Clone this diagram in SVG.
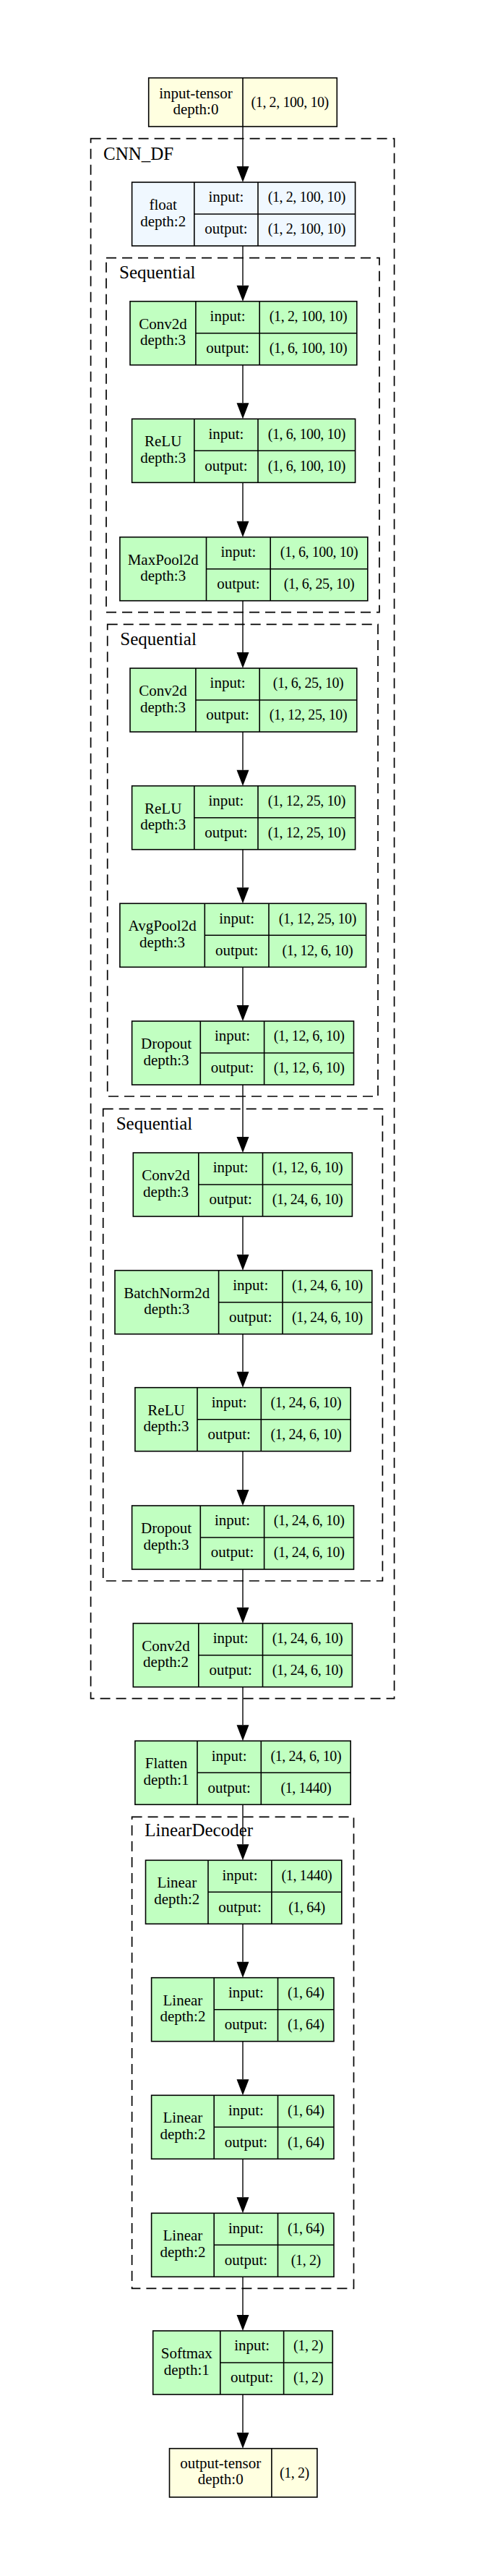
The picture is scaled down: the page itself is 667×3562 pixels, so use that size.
<svg xmlns="http://www.w3.org/2000/svg" width="667" height="3562" viewBox="0 0 667 3562">
<style>
text{font-family:"Liberation Serif","Times New Roman",serif;font-size:21px;text-anchor:middle;fill:#000}
text.v{font-size:20px;letter-spacing:-0.4px}
text.cl{font-size:25px;text-anchor:start}
.g rect{fill:#c1ffc1;stroke:#000;stroke-width:1.6}
.b rect{fill:#f0f8ff;stroke:#000;stroke-width:1.6}
.y rect{fill:#ffffe0;stroke:#000;stroke-width:1.6}
line.d{stroke:#000;stroke-width:1.6}
.cluster{fill:none;stroke:#000;stroke-width:1.7;stroke-dasharray:14 8}
#edges line{stroke:#000;stroke-width:1.4;marker-end:url(#ah)}
</style>
<defs>
<marker id="ah" markerUnits="userSpaceOnUse" markerWidth="22" markerHeight="17" refX="0" refY="8.5" orient="auto" viewBox="0 0 22 17" overflow="visible"><path d="M0,0 L22,8.5 L0,17 z" fill="#000"/></marker>
</defs>
<rect width="667" height="3562" fill="#fff"/>

<g id="clusters">
<g id="cl_cnn"><rect class="cluster" x="125.6" y="191.7" width="420" height="2157"/><text class="cl" x="143" y="220.5">CNN_DF</text></g>
<g id="cl_seq1"><rect class="cluster" x="147" y="356.7" width="378" height="490"/><text class="cl" x="165" y="385">Sequential</text></g>
<g id="cl_seq2"><rect class="cluster" x="148.7" y="863.3" width="374.3" height="652.7"/><text class="cl" x="166.3" y="891.7">Sequential</text></g>
<g id="cl_seq3"><rect class="cluster" x="142.7" y="1533.3" width="386.7" height="652.7"/><text class="cl" x="160.7" y="1561.7">Sequential</text></g>
<g id="cl_ld"><rect class="cluster" x="182.6" y="2512.3" width="306.9" height="652"/><text class="cl" x="200.2" y="2539.3">LinearDecoder</text></g>
</g>

<g id="edges">
<line x1="336" y1="175" x2="336" y2="230"/>
<line x1="336" y1="340" x2="336" y2="394.7"/>
<line x1="336" y1="504.7" x2="336" y2="557.3"/>
<line x1="336" y1="667.7" x2="336" y2="720.7"/>
<line x1="336" y1="830.7" x2="336" y2="902"/>
<line x1="336" y1="1012" x2="336" y2="1064.7"/>
<line x1="336" y1="1174.7" x2="336" y2="1227.3"/>
<line x1="336" y1="1337.3" x2="336" y2="1390"/>
<line x1="336" y1="1500" x2="336" y2="1572"/>
<line x1="336" y1="1682" x2="336" y2="1734.7"/>
<line x1="336" y1="1844.7" x2="336" y2="1896.7"/>
<line x1="336" y1="2006.7" x2="336" y2="2060"/>
<line x1="336" y1="2170" x2="336" y2="2222.7"/>
<line x1="336" y1="2332.7" x2="336" y2="2385.3"/>
<line x1="336" y1="2495.3" x2="336" y2="2550.3"/>
<line x1="336" y1="2660.3" x2="336" y2="2712.7"/>
<line x1="336" y1="2822.7" x2="336" y2="2875.3"/>
<line x1="336" y1="2985.3" x2="336" y2="3038.3"/>
<line x1="336" y1="3148.3" x2="336" y2="3201"/>
<line x1="336" y1="3311" x2="336" y2="3363.7"/>
</g>

<g id="input_tensor" class="y">
<rect x="205.7" y="107.7" width="260.6" height="67.3"/>
<line class="d" x1="336" y1="107.7" x2="336" y2="175"/>
<text x="270.9" y="136">input-tensor</text>
<text x="270.9" y="158">depth:0</text>
<text class="v" x="401.2" y="148.3">(1, 2, 100, 10)</text>
</g>

<g id="float" class="b" transform="translate(0,252)">
<rect x="182.6" y="0" width="309" height="88"/>
<line class="d" x1="268.8" y1="0" x2="268.8" y2="88"/><line class="d" x1="357" y1="0" x2="357" y2="88"/><line class="d" x1="268.8" y1="44" x2="491.6" y2="44"/>
<text x="225.7" y="38">float</text><text x="225.7" y="60.5">depth:2</text>
<text x="312.9" y="27.3">input:</text><text x="312.9" y="71.3">output:</text>
<text class="v" x="424.3" y="27.3">(1, 2, 100, 10)</text><text class="v" x="424.3" y="71.3">(1, 2, 100, 10)</text>
</g>

<g id="conv2d_1" class="g" transform="translate(0,416.7)">
<rect x="180" y="0" width="313.8" height="88"/>
<line class="d" x1="270.9" y1="0" x2="270.9" y2="88"/><line class="d" x1="359.2" y1="0" x2="359.2" y2="88"/><line class="d" x1="270.9" y1="44" x2="493.8" y2="44"/>
<text x="225.5" y="38">Conv2d</text><text x="225.5" y="60.5">depth:3</text>
<text x="315.1" y="27.3">input:</text><text x="315.1" y="71.3">output:</text>
<text class="v" x="426.5" y="27.3">(1, 2, 100, 10)</text><text class="v" x="426.5" y="71.3">(1, 6, 100, 10)</text>
</g>

<g id="relu_1" class="g" transform="translate(0,579.3)">
<rect x="182.6" y="0" width="309" height="88"/>
<line class="d" x1="268.8" y1="0" x2="268.8" y2="88"/><line class="d" x1="357" y1="0" x2="357" y2="88"/><line class="d" x1="268.8" y1="44" x2="491.6" y2="44"/>
<text x="225.7" y="38">ReLU</text><text x="225.7" y="60.5">depth:3</text>
<text x="312.9" y="27.3">input:</text><text x="312.9" y="71.3">output:</text>
<text class="v" x="424.3" y="27.3">(1, 6, 100, 10)</text><text class="v" x="424.3" y="71.3">(1, 6, 100, 10)</text>
</g>

<g id="maxpool2d" class="g" transform="translate(0,742.7)">
<rect x="165.9" y="0" width="342.9" height="88"/>
<line class="d" x1="285.5" y1="0" x2="285.5" y2="88"/><line class="d" x1="374.2" y1="0" x2="374.2" y2="88"/><line class="d" x1="285.5" y1="44" x2="508.8" y2="44"/>
<text x="225.7" y="38">MaxPool2d</text><text x="225.7" y="60.5">depth:3</text>
<text x="329.9" y="27.3">input:</text><text x="329.9" y="71.3">output:</text>
<text class="v" x="441.5" y="27.3">(1, 6, 100, 10)</text><text class="v" x="441.5" y="71.3">(1, 6, 25, 10)</text>
</g>

<g id="conv2d_2" class="g" transform="translate(0,924)">
<rect x="180" y="0" width="313.8" height="88"/>
<line class="d" x1="270.9" y1="0" x2="270.9" y2="88"/><line class="d" x1="359.2" y1="0" x2="359.2" y2="88"/><line class="d" x1="270.9" y1="44" x2="493.8" y2="44"/>
<text x="225.5" y="38">Conv2d</text><text x="225.5" y="60.5">depth:3</text>
<text x="315.1" y="27.3">input:</text><text x="315.1" y="71.3">output:</text>
<text class="v" x="426.5" y="27.3">(1, 6, 25, 10)</text><text class="v" x="426.5" y="71.3">(1, 12, 25, 10)</text>
</g>

<g id="relu_2" class="g" transform="translate(0,1086.7)">
<rect x="182.6" y="0" width="309" height="88"/>
<line class="d" x1="268.8" y1="0" x2="268.8" y2="88"/><line class="d" x1="357" y1="0" x2="357" y2="88"/><line class="d" x1="268.8" y1="44" x2="491.6" y2="44"/>
<text x="225.7" y="38">ReLU</text><text x="225.7" y="60.5">depth:3</text>
<text x="312.9" y="27.3">input:</text><text x="312.9" y="71.3">output:</text>
<text class="v" x="424.3" y="27.3">(1, 12, 25, 10)</text><text class="v" x="424.3" y="71.3">(1, 12, 25, 10)</text>
</g>

<g id="avgpool2d" class="g" transform="translate(0,1249.3)">
<rect x="165.9" y="0" width="340.7" height="88"/>
<line class="d" x1="283.3" y1="0" x2="283.3" y2="88"/><line class="d" x1="372" y1="0" x2="372" y2="88"/><line class="d" x1="283.3" y1="44" x2="506.6" y2="44"/>
<text x="224.6" y="38">AvgPool2d</text><text x="224.6" y="60.5">depth:3</text>
<text x="327.7" y="27.3">input:</text><text x="327.7" y="71.3">output:</text>
<text class="v" x="439.3" y="27.3">(1, 12, 25, 10)</text><text class="v" x="439.3" y="71.3">(1, 12, 6, 10)</text>
</g>

<g id="dropout_1" class="g" transform="translate(0,1412)">
<rect x="182.6" y="0" width="306.9" height="88"/>
<line class="d" x1="277.3" y1="0" x2="277.3" y2="88"/><line class="d" x1="365.6" y1="0" x2="365.6" y2="88"/><line class="d" x1="277.3" y1="44" x2="489.5" y2="44"/>
<text x="230" y="38">Dropout</text><text x="230" y="60.5">depth:3</text>
<text x="321.5" y="27.3">input:</text><text x="321.5" y="71.3">output:</text>
<text class="v" x="427.6" y="27.3">(1, 12, 6, 10)</text><text class="v" x="427.6" y="71.3">(1, 12, 6, 10)</text>
</g>

<g id="conv2d_3" class="g" transform="translate(0,1594)">
<rect x="184.3" y="0" width="303.1" height="88"/>
<line class="d" x1="274.8" y1="0" x2="274.8" y2="88"/><line class="d" x1="363.5" y1="0" x2="363.5" y2="88"/><line class="d" x1="274.8" y1="44" x2="487.4" y2="44"/>
<text x="229.6" y="38">Conv2d</text><text x="229.6" y="60.5">depth:3</text>
<text x="319.2" y="27.3">input:</text><text x="319.2" y="71.3">output:</text>
<text class="v" x="425.5" y="27.3">(1, 12, 6, 10)</text><text class="v" x="425.5" y="71.3">(1, 24, 6, 10)</text>
</g>

<g id="batchnorm2d" class="g" transform="translate(0,1756.7)">
<rect x="159" y="0" width="355.8" height="88"/>
<line class="d" x1="302.6" y1="0" x2="302.6" y2="88"/><line class="d" x1="391" y1="0" x2="391" y2="88"/><line class="d" x1="302.6" y1="44" x2="514.8" y2="44"/>
<text x="230.8" y="38">BatchNorm2d</text><text x="230.8" y="60.5">depth:3</text>
<text x="346.8" y="27.3">input:</text><text x="346.8" y="71.3">output:</text>
<text class="v" x="452.9" y="27.3">(1, 24, 6, 10)</text><text class="v" x="452.9" y="71.3">(1, 24, 6, 10)</text>
</g>

<g id="relu_3" class="g" transform="translate(0,1918.7)">
<rect x="186.9" y="0" width="298.3" height="88"/>
<line class="d" x1="273" y1="0" x2="273" y2="88"/><line class="d" x1="361.3" y1="0" x2="361.3" y2="88"/><line class="d" x1="273" y1="44" x2="485.2" y2="44"/>
<text x="230" y="38">ReLU</text><text x="230" y="60.5">depth:3</text>
<text x="317.2" y="27.3">input:</text><text x="317.2" y="71.3">output:</text>
<text class="v" x="423.3" y="27.3">(1, 24, 6, 10)</text><text class="v" x="423.3" y="71.3">(1, 24, 6, 10)</text>
</g>

<g id="dropout_2" class="g" transform="translate(0,2082)">
<rect x="182.6" y="0" width="306.9" height="88"/>
<line class="d" x1="277.3" y1="0" x2="277.3" y2="88"/><line class="d" x1="365.6" y1="0" x2="365.6" y2="88"/><line class="d" x1="277.3" y1="44" x2="489.5" y2="44"/>
<text x="230" y="38">Dropout</text><text x="230" y="60.5">depth:3</text>
<text x="321.5" y="27.3">input:</text><text x="321.5" y="71.3">output:</text>
<text class="v" x="427.6" y="27.3">(1, 24, 6, 10)</text><text class="v" x="427.6" y="71.3">(1, 24, 6, 10)</text>
</g>

<g id="conv2d_4" class="g" transform="translate(0,2244.7)">
<rect x="184.3" y="0" width="303.1" height="88"/>
<line class="d" x1="274.8" y1="0" x2="274.8" y2="88"/><line class="d" x1="363.5" y1="0" x2="363.5" y2="88"/><line class="d" x1="274.8" y1="44" x2="487.4" y2="44"/>
<text x="229.6" y="38">Conv2d</text><text x="229.6" y="60.5">depth:2</text>
<text x="319.2" y="27.3">input:</text><text x="319.2" y="71.3">output:</text>
<text class="v" x="425.5" y="27.3">(1, 24, 6, 10)</text><text class="v" x="425.5" y="71.3">(1, 24, 6, 10)</text>
</g>

<g id="flatten" class="g" transform="translate(0,2407.3)">
<rect x="186.9" y="0" width="298.3" height="88"/>
<line class="d" x1="273" y1="0" x2="273" y2="88"/><line class="d" x1="361.3" y1="0" x2="361.3" y2="88"/><line class="d" x1="273" y1="44" x2="485.2" y2="44"/>
<text x="230" y="38">Flatten</text><text x="230" y="60.5">depth:1</text>
<text x="317.2" y="27.3">input:</text><text x="317.2" y="71.3">output:</text>
<text class="v" x="423.3" y="27.3">(1, 24, 6, 10)</text><text class="v" x="423.3" y="71.3">(1, 1440)</text>
</g>

<g id="linear_1" class="g" transform="translate(0,2572.3)">
<rect x="201.5" y="0" width="271.3" height="88"/>
<line class="d" x1="288" y1="0" x2="288" y2="88"/><line class="d" x1="375.9" y1="0" x2="375.9" y2="88"/><line class="d" x1="288" y1="44" x2="472.8" y2="44"/>
<text x="244.8" y="38">Linear</text><text x="244.8" y="60.5">depth:2</text>
<text x="332" y="27.3">input:</text><text x="332" y="71.3">output:</text>
<text class="v" x="424.4" y="27.3">(1, 1440)</text><text class="v" x="424.4" y="71.3">(1, 64)</text>
</g>

<g id="linear_2" class="g" transform="translate(0,2734.7)">
<rect x="209.6" y="0" width="252.4" height="88"/>
<line class="d" x1="296.2" y1="0" x2="296.2" y2="88"/><line class="d" x1="384.5" y1="0" x2="384.5" y2="88"/><line class="d" x1="296.2" y1="44" x2="462" y2="44"/>
<text x="252.9" y="38">Linear</text><text x="252.9" y="60.5">depth:2</text>
<text x="340.4" y="27.3">input:</text><text x="340.4" y="71.3">output:</text>
<text class="v" x="423.3" y="27.3">(1, 64)</text><text class="v" x="423.3" y="71.3">(1, 64)</text>
</g>

<g id="linear_3" class="g" transform="translate(0,2897.3)">
<rect x="209.6" y="0" width="252.4" height="88"/>
<line class="d" x1="296.2" y1="0" x2="296.2" y2="88"/><line class="d" x1="384.5" y1="0" x2="384.5" y2="88"/><line class="d" x1="296.2" y1="44" x2="462" y2="44"/>
<text x="252.9" y="38">Linear</text><text x="252.9" y="60.5">depth:2</text>
<text x="340.4" y="27.3">input:</text><text x="340.4" y="71.3">output:</text>
<text class="v" x="423.3" y="27.3">(1, 64)</text><text class="v" x="423.3" y="71.3">(1, 64)</text>
</g>

<g id="linear_4" class="g" transform="translate(0,3060.3)">
<rect x="209.6" y="0" width="252.4" height="88"/>
<line class="d" x1="296.2" y1="0" x2="296.2" y2="88"/><line class="d" x1="384.5" y1="0" x2="384.5" y2="88"/><line class="d" x1="296.2" y1="44" x2="462" y2="44"/>
<text x="252.9" y="38">Linear</text><text x="252.9" y="60.5">depth:2</text>
<text x="340.4" y="27.3">input:</text><text x="340.4" y="71.3">output:</text>
<text class="v" x="423.3" y="27.3">(1, 64)</text><text class="v" x="423.3" y="71.3">(1, 2)</text>
</g>

<g id="softmax" class="g" transform="translate(0,3223)">
<rect x="211.7" y="0" width="248.6" height="88"/>
<line class="d" x1="304.8" y1="0" x2="304.8" y2="88"/><line class="d" x1="392.6" y1="0" x2="392.6" y2="88"/><line class="d" x1="304.8" y1="44" x2="460.3" y2="44"/>
<text x="258.3" y="38">Softmax</text><text x="258.3" y="60.5">depth:1</text>
<text x="348.7" y="27.3">input:</text><text x="348.7" y="71.3">output:</text>
<text class="v" x="426.5" y="27.3">(1, 2)</text><text class="v" x="426.5" y="71.3">(1, 2)</text>
</g>

<g id="output_tensor" class="y">
<rect x="234.5" y="3385.7" width="204.4" height="67.3"/>
<line class="d" x1="375.9" y1="3385.7" x2="375.9" y2="3453"/>
<text x="305.2" y="3413.3">output-tensor</text>
<text x="305.2" y="3435.3">depth:0</text>
<text class="v" x="407.4" y="3426">(1, 2)</text>
</g>
</svg>
